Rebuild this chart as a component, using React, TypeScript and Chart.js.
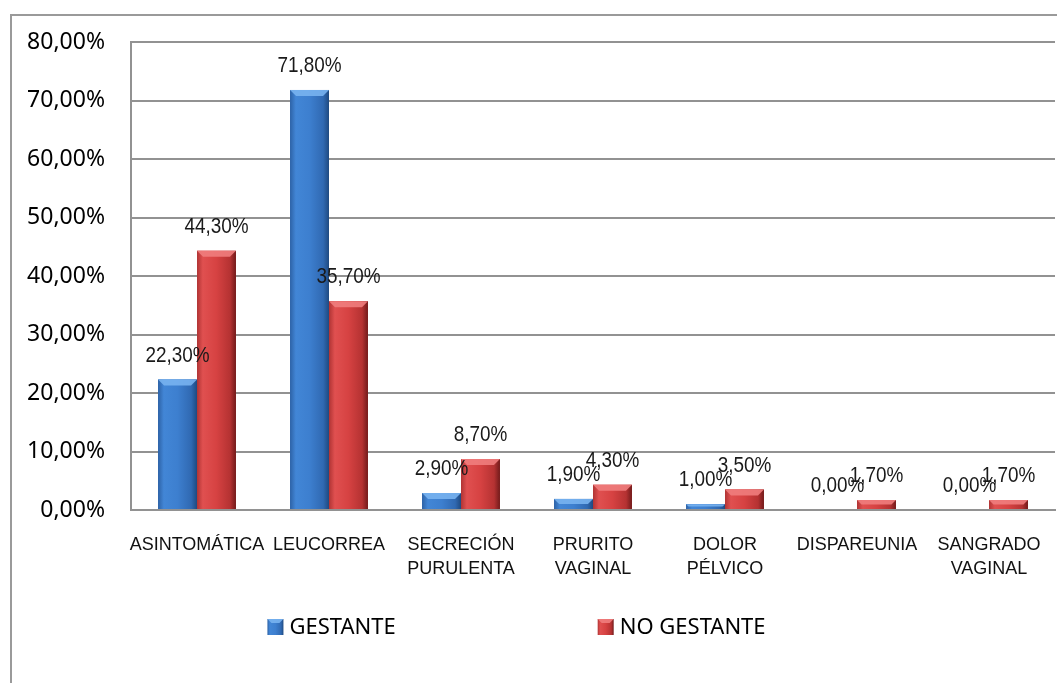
import { useEffect, useRef } from 'react';
import { Chart, registerables } from 'chart.js';

Chart.register(...registerables);

// Symptom categories (multi-line labels are arrays)
const categories: (string | string[])[] = [
  'ASINTOMÁTICA',
  'LEUCORREA',
  ['SECRECIÓN', 'PURULENTA'],
  ['PRURITO', 'VAGINAL'],
  ['DOLOR', 'PÉLVICO'],
  'DISPAREUNIA',
  ['SANGRADO', 'VAGINAL'],
];

const seriesNames = ['GESTANTE', 'NO GESTANTE'];
const gestante = [22.3, 71.8, 2.9, 1.9, 1.0, 0.0, 0.0];
const noGestante = [44.3, 35.7, 8.7, 4.3, 3.5, 1.7, 1.7];

const yMin = 0;
const yMax = 80;
const yStep = 10;

const fmt = (v: number) => v.toFixed(2).replace('.', ',') + '%';

const LIB = "'Liberation Sans', Arial, sans-serif";
const SANS = "'Noto Sans', 'Open Sans', 'DejaVu Sans', sans-serif";

// Cylinder-like horizontal shading per series
const shades: [number, string][][] = [
  [
    [0, '#2d62a6'],
    [0.15, '#4286d6'],
    [0.5, '#3d7fcf'],
    [0.85, '#3069b2'],
    [1, '#1f4a80'],
  ],
  [
    [0, '#b03434'],
    [0.15, '#e05050'],
    [0.5, '#d64242'],
    [0.85, '#b53232'],
    [1, '#721b1b'],
  ],
];
const baseColors = ['#3d7fcf', '#d64242'];
const bevelColors = ['rgba(120,178,240,0.9)', 'rgba(240,125,125,0.9)'];

function shadeRect(
  ctx: CanvasRenderingContext2D,
  series: number,
  left: number,
  top: number,
  w: number,
  h: number,
  bevelMax: number
) {
  const g = ctx.createLinearGradient(left, 0, left + w, 0);
  shades[series].forEach(([o, c]) => g.addColorStop(o, c));
  ctx.fillStyle = g;
  ctx.fillRect(left, top, w, h);
  const bev = Math.min(bevelMax, h / 2, w / 2);
  if (bev > 0.5) {
    ctx.beginPath();
    ctx.moveTo(left, top);
    ctx.lineTo(left + w, top);
    ctx.lineTo(left + w - bev, top + bev);
    ctx.lineTo(left + bev, top + bev);
    ctx.closePath();
    ctx.fillStyle = bevelColors[series];
    ctx.fill();
  }
}

const framePlugin = {
  id: 'frame',
  beforeDraw(chart: Chart) {
    const { ctx, width, height } = chart;
    ctx.save();
    ctx.fillStyle = '#ffffff';
    ctx.fillRect(0, 0, width, height);
    ctx.strokeStyle = '#9a9a9a';
    ctx.lineWidth = 2;
    ctx.beginPath();
    ctx.moveTo(11, height + 2);
    ctx.lineTo(11, 15);
    ctx.lineTo(width + 2, 15);
    ctx.stroke();
    ctx.restore();
  },
};

const barLookPlugin = {
  id: 'barLook',
  afterDatasetsDraw(chart: Chart) {
    const { ctx } = chart;
    ctx.save();
    const labels: { text: string; x: number; y: number }[] = [];
    chart.data.datasets.forEach((ds, i) => {
      const meta = chart.getDatasetMeta(i);
      meta.data.forEach((el: any, j: number) => {
        const { x, y, base, width } = el.getProps(['x', 'y', 'base', 'width'], true);
        const left = x - width / 2;
        const top = Math.min(y, base);
        const h = Math.abs(base - y);
        if (h >= 0.5) shadeRect(ctx, i, left, top, width, h, 6);
        labels.push({ text: fmt((ds.data as number[])[j]), x, y: top - 24 });
      });
    });
    // value labels on top of every bar, in a condensed face
    ctx.fillStyle = '#1a1a1a';
    ctx.font = `22px ${LIB}`;
    ctx.textAlign = 'center';
    ctx.textBaseline = 'middle';
    labels.forEach((l) => {
      ctx.save();
      ctx.translate(l.x, l.y);
      ctx.scale(0.86, 1);
      ctx.fillText(l.text, 0, 0);
      ctx.restore();
    });
    ctx.restore();
  },
};

const legendPlugin = {
  id: 'sideLegend',
  afterDraw(chart: Chart) {
    const { ctx, width } = chart;
    ctx.save();
    ctx.font = `22px ${SANS}`;
    ctx.textBaseline = 'middle';
    ctx.textAlign = 'left';
    const box = 16;
    const textGap = 6;
    const itemGap = 202;
    const names = chart.data.datasets.map((d) => String(d.label));
    const widths = names.map((n) => box + textGap + ctx.measureText(n).width);
    const total = widths.reduce((a, b) => a + b, 0) + itemGap * (names.length - 1);
    let x = width / 2 - 12 - total / 2;
    const cy = 627;
    names.forEach((n, i) => {
      shadeRect(ctx, i, x, cy - box / 2, box, box, 4);
      ctx.fillStyle = '#000000';
      ctx.fillText(n, x + box + textGap, cy + 1);
      x += widths[i] + itemGap;
    });
    ctx.restore();
  },
};

export default function App() {
  const ref = useRef<HTMLCanvasElement | null>(null);

  useEffect(() => {
    if (!ref.current) return;
    const gridColor = '#929292';
    const chart = new Chart(ref.current, {
      type: 'bar',
      data: {
        labels: categories,
        datasets: [
          {
            label: seriesNames[0],
            data: gestante,
            backgroundColor: baseColors[0],
            categoryPercentage: 0.59,
            barPercentage: 1,
          },
          {
            label: seriesNames[1],
            data: noGestante,
            backgroundColor: baseColors[1],
            categoryPercentage: 0.59,
            barPercentage: 1,
          },
        ],
      },
      options: {
        responsive: false,
        animation: false,
        layout: { padding: { left: 0, top: 42, right: 2, bottom: 0 } },
        plugins: {
          legend: { display: false },
          tooltip: { enabled: false },
        },
        scales: {
          x: {
            grid: { display: false, drawTicks: false },
            border: { display: true, color: gridColor, width: 2 },
            ticks: {
              color: '#111111',
              font: { family: LIB, size: 18, lineHeight: 1.35 },
              padding: 23,
              maxRotation: 0,
              autoSkip: false,
            },
            afterFit: (s: any) => {
              s.height = 173;
              s.paddingLeft = 0;
              s.paddingRight = 0;
            },
          },
          y: {
            min: yMin,
            max: yMax,
            grid: { color: gridColor, lineWidth: 2, drawTicks: false },
            border: { display: true, color: gridColor, width: 2 },
            ticks: {
              stepSize: yStep,
              color: '#000000',
              font: { family: SANS, size: 23 },
              padding: 26,
              callback: (v: any) => fmt(Number(v)),
            },
            afterFit: (s: any) => {
              s.width = 131;
            },
          },
        },
      },
      plugins: [framePlugin, barLookPlugin, legendPlugin],
    });
    return () => chart.destroy();
  }, []);

  return (
    <div style={{ position: 'fixed', left: 0, top: 0, width: 1057, height: 683, background: '#fff' }}>
      <canvas ref={ref} width={1057} height={683} style={{ width: 1057, height: 683, display: 'block' }} />
    </div>
  );
}
